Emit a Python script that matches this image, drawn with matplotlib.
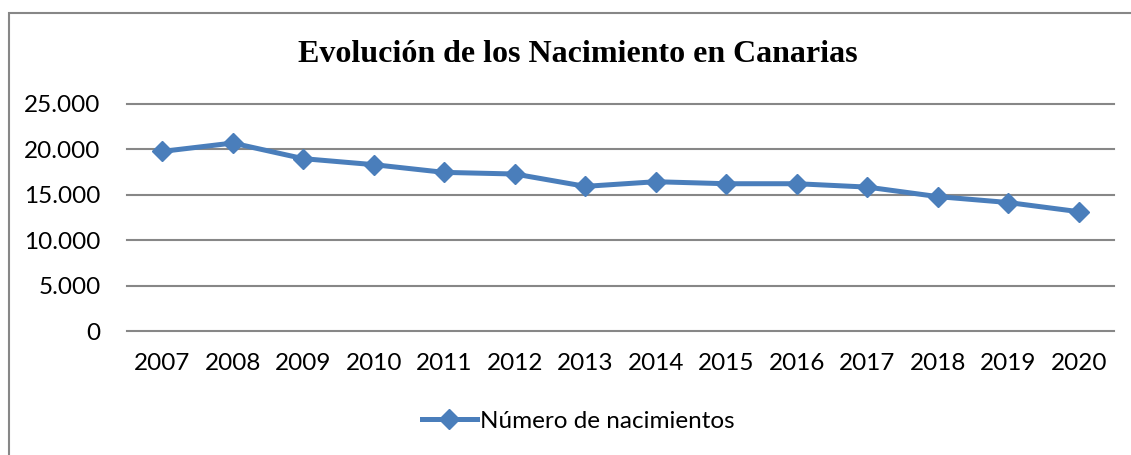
import matplotlib.pyplot as plt
from matplotlib.patches import Rectangle
from matplotlib.ticker import FuncFormatter

# data
years = ['2007', '2008', '2009', '2010', '2011', '2012', '2013',
         '2014', '2015', '2016', '2017', '2018', '2019', '2020']
births = [19780, 20700, 18980, 18320, 17470, 17290, 15930,
          16440, 16220, 16220, 15850, 14800, 14150, 13140]
yticks = [0, 5000, 10000, 15000, 20000, 25000]

blue = '#4a7ebb'
grey = '#878787'

fig = plt.figure(figsize=(11.31, 4.55), dpi=100)
ax = fig.add_axes([127/1131, 1 - 331/455, (1114 - 127)/1131, (331 - 104)/455])

xs = range(len(years))
ax.plot(xs, births, color=blue, lw=3.6, marker='D', markersize=10,
        label='Número de nacimientos', zorder=3)

ax.set_xlim(-0.5, len(years) - 0.5)
ax.set_ylim(0, 25000)
ax.set_xticks(list(xs))
ax.set_xticklabels(years)
ax.set_yticks(yticks)
ax.yaxis.set_major_formatter(FuncFormatter(lambda v, p: f'{int(v):,}'.replace(',', '.')))

ax.tick_params(axis='both', length=0, labelsize=17.5)
ax.tick_params(axis='y', pad=19)
ax.tick_params(axis='x', pad=16)
for lab in ax.get_xticklabels() + ax.get_yticklabels():
    lab.set_fontfamily('Lato')

for s in ax.spines.values():
    s.set_visible(False)
ax.grid(axis='y', color=grey, lw=1.5)
ax.grid(axis='x', visible=False)
for gl in ax.get_ygridlines():
    gl.set_clip_on(False)

fig.text(578/1131, 1 - 55/455, 'Evolución de los Nacimiento en Canarias',
         ha='center', va='center', fontsize=23, fontweight='bold',
         family='Liberation Serif')

ax.legend(loc='center', bbox_to_anchor=(578/1131, 1 - 421/455),
          bbox_transform=fig.transFigure, frameon=False,
          prop={'family': 'Lato', 'size': 17.5}, handlelength=2.3,
          handletextpad=0.1)

# outer chart frame (runs past the right and bottom edges)
fig.patches.append(Rectangle((9/1131, -0.2), 1.2, 1.2 - 13/455,
                             transform=fig.transFigure, fill=False,
                             edgecolor=grey, lw=1.5))

fig.savefig('out.png', dpi=100)
